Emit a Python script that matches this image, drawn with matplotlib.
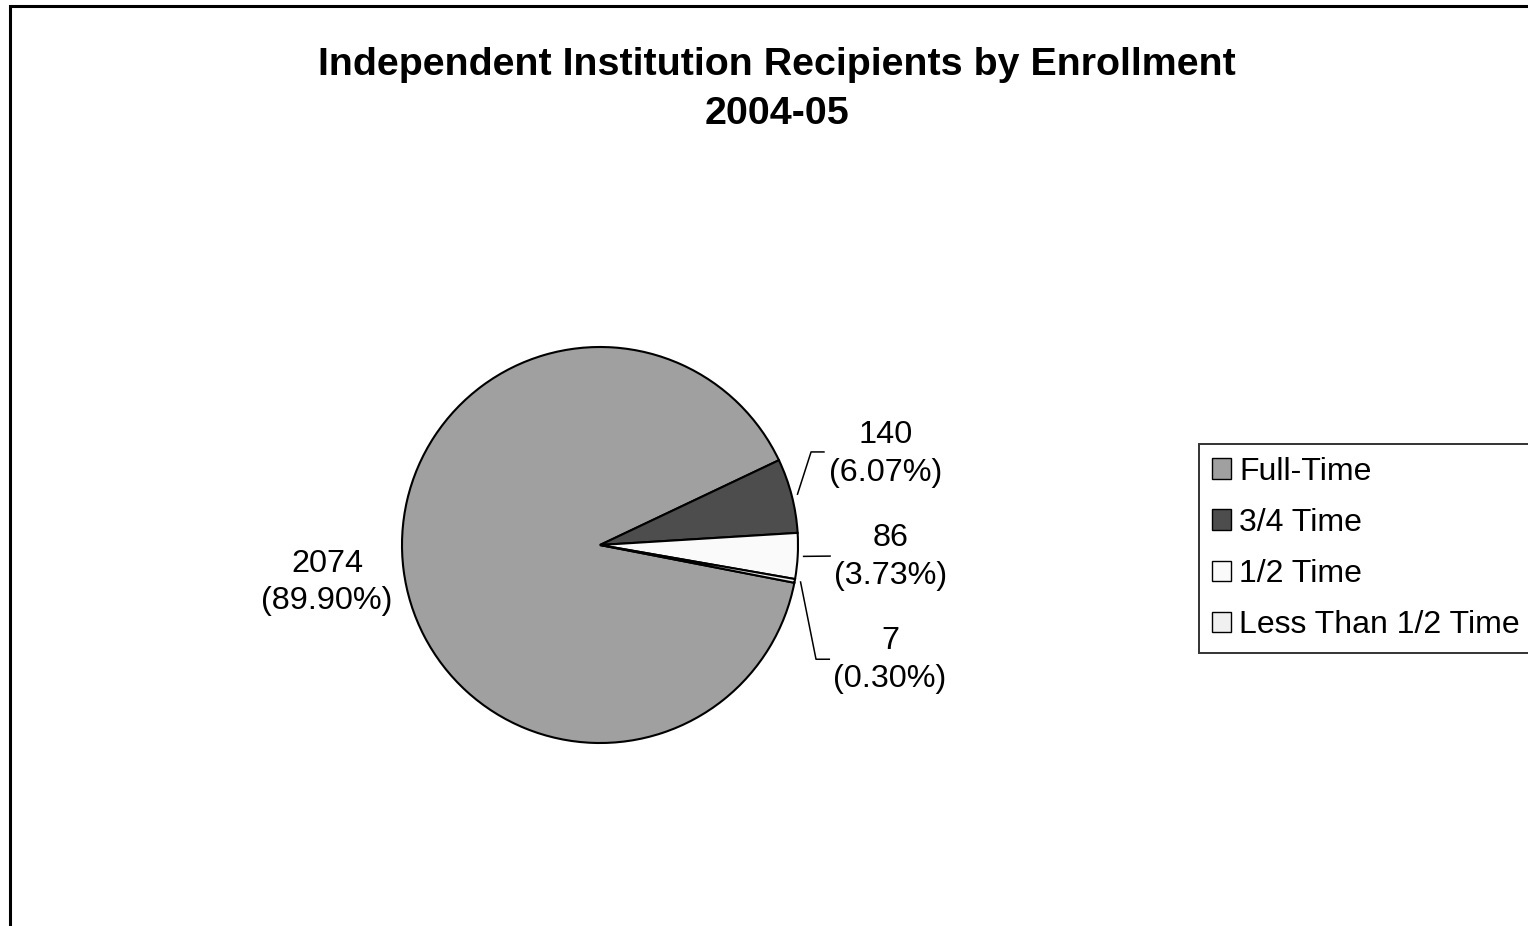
import numpy as np
import matplotlib.pyplot as plt
from matplotlib.patches import Rectangle
from matplotlib.lines import Line2D

plt.rcParams["font.family"] = ["Liberation Sans", "DejaVu Sans"]

# Data
categories = ["Full-Time", "3/4 Time", "1/2 Time", "Less Than 1/2 Time"]
counts = [2074, 140, 86, 7]
colors = ["#a0a0a0", "#4d4d4d", "#fafafa", "#f0f0f0"]

W, H = 1528, 926
fig = plt.figure(figsize=(W / 100, H / 100), dpi=100)

# outer chart border (right and bottom edges run off the picture)
fig.patches.append(Rectangle((10 / W, -0.1), 1.2, 1 - 6 / H + 0.1,
                             transform=fig.transFigure, fill=False,
                             edgecolor="black", linewidth=2.2))

fig.text(777 / W, 1 - 47 / H,
         "Independent Institution Recipients by Enrollment\n2004-05",
         ha="center", va="top", fontsize=28.4, fontweight="bold",
         linespacing=1.47)

# pie axes: center (600, 545) px, radius 198 px
cx, cy, r = 600, 545, 198
ax = fig.add_axes([(cx - r) / W, (H - cy - r) / H, 2 * r / W, 2 * r / H])
wedges, _ = ax.pie(counts, colors=colors, startangle=-11, counterclock=False,
                   wedgeprops=dict(edgecolor="black", linewidth=1.5))
ax.set_xlim(-1, 1)
ax.set_ylim(-1, 1)
ax.axis("off")

total = sum(counts)
labels = [f"{c}\n({c / total * 100:.2f}%)" for c in counts]

# label positions (data units of the pie axes)
label_pos = [(-1.379, -0.19), (1.444, 0.46), (1.465, -0.06), (1.465, -0.58)]
for txt, (x, y) in zip(labels, label_pos):
    ax.text(x, y, txt, ha="center", va="center", fontsize=23.3,
            linespacing=1.32, clip_on=False)

# leader lines for the small slices
leaders = {1: [(1.066, 0.470), (1.131, 0.470)],
           2: [(1.162, -0.056)],
           3: [(1.091, -0.577), (1.158, -0.577)]}
for i, pts in leaders.items():
    w = wedges[i]
    mid = np.deg2rad((w.theta1 + w.theta2) / 2)
    start = (1.03 * np.cos(mid), 1.03 * np.sin(mid))
    xs = [start[0]] + [p[0] for p in pts]
    ys = [start[1]] + [p[1] for p in pts]
    ax.add_line(Line2D(xs, ys, color="black", linewidth=1.1, clip_on=False))

leg = fig.legend(wedges, categories, loc="upper left",
                 bbox_to_anchor=(1199 / W, 1 - 444 / H),
                 fontsize=23, frameon=True, fancybox=False,
                 handlelength=0.6, handleheight=0.6, handletextpad=0.25,
                 labelspacing=0.66, borderpad=0.4, borderaxespad=0)
leg.get_frame().set_edgecolor("black")
leg.get_frame().set_linewidth(1.4)
for h in leg.legend_handles:
    h.set_edgecolor("black")
    h.set_linewidth(1.0)

fig.savefig("out.png", dpi=100)
